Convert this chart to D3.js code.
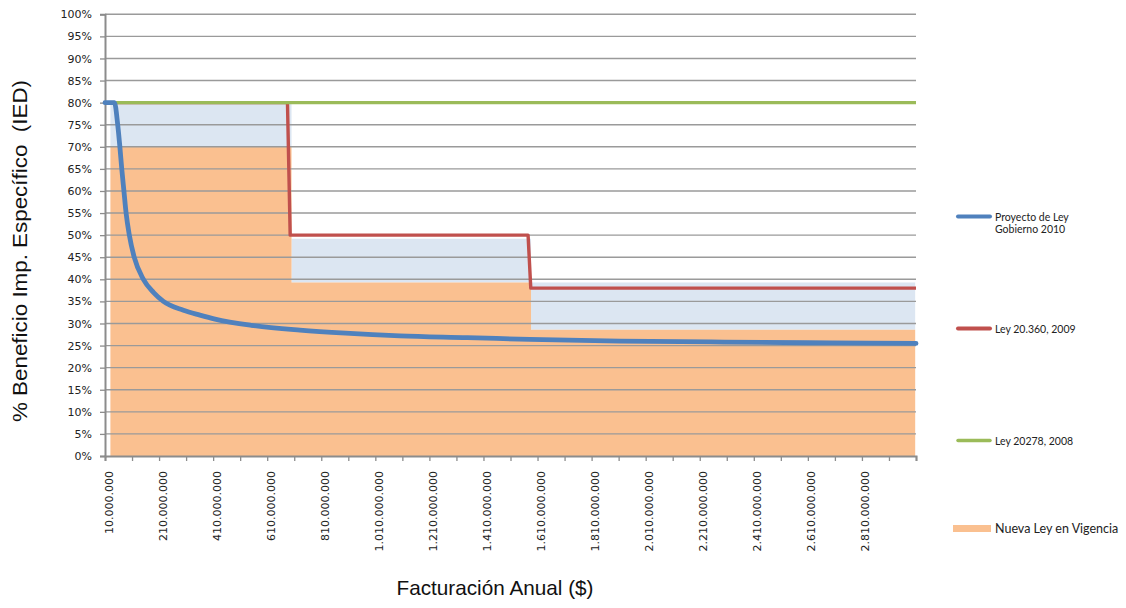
<!DOCTYPE html>
<html>
<head>
<meta charset="utf-8">
<script src="https://cdn.jsdelivr.net/npm/d3@7/dist/d3.min.js"></script>
<style>
  html, body { margin: 0; padding: 0; background: #ffffff; }
  svg { display: block; }
</style>
</head>
<body>
<svg id="chart" width="1126" height="608"></svg>
<script>
// ---------------- DATA (millions of $ / percent) ----------------
const yTickValues = [0, 5, 10, 15, 20, 25, 30, 35, 40, 45, 50, 55, 60, 65, 70, 75, 80, 85, 90, 95, 100];
const xTickValues = [10, 110, 210, 310, 410, 510, 610, 710, 810, 910, 1010, 1110, 1210, 1310, 1410, 1510,
                     1610, 1710, 1810, 1910, 2010, 2110, 2210, 2310, 2410, 2510, 2610, 2710, 2810, 2910, 3010];
const xTickLabels = [10, 210, 410, 610, 810, 1010, 1210, 1410, 1610, 1810, 2010, 2210, 2410, 2610, 2810];

// Proyecto de Ley Gobierno 2010 (blue curve)
const proyectoX   = [10, 45, 57, 65, 72, 80, 88, 100, 118, 152, 190, 226, 300, 361, 417, 550, 731, 900, 1101, 1350, 1582, 1915, 2300, 2700, 3010];
const proyectoPct = [80, 80, 75, 70, 65, 60, 55, 50, 45, 40, 37, 35, 33, 31.9, 31, 29.6, 28.5, 27.8, 27.2, 26.8, 26.4, 26.0, 25.8, 25.6, 25.5];

// Ley 20.360, 2009 (red steps)
const ley2009X   = [10, 685, 695, 1575, 1585, 3010];
const ley2009Pct = [80, 80, 50, 50, 38, 38];

// Ley 20278, 2008 (green)
const ley2008X   = [10, 3010];
const ley2008Pct = [80, 80];

// Nueva Ley en Vigencia (orange area) and light-blue band above it
const nuevaX      = [30, 700, 1586, 3007];
const nuevaPct    = [70, 39.3, 28.6, 28.6];
const bandTopPct  = [80, 49.2, 39.3, 39.3];

// ---------------- CHART ----------------
const svg = d3.select("#chart");
const plotLeft = 105, plotRight = 916, plotTop = 14.3, plotBottom = 456;

const x = d3.scaleLinear().domain([10, 3010]).range([plotLeft, plotRight]);
const y = d3.scaleLinear().domain([0, 100]).range([plotBottom, plotTop]);

const esLocale = d3.formatLocale({ decimal: ",", thousands: ".", grouping: [3], currency: ["$", ""] });
const fmtMoney = esLocale.format(",");

const colOrange = "#FAC090", colBand = "#DCE6F2";
const colBlue = "#4F81BD", colRed = "#C0504D", colGreen = "#9BBB59";
const gridCol = "#9a9a9a";

// areas
const areaBand = d3.area()
  .x((d, i) => x(nuevaX[i]))
  .y0((d, i) => y(nuevaPct[i]))
  .y1((d, i) => y(bandTopPct[i]))
  .curve(d3.curveStepAfter);
svg.append("path").attr("d", areaBand(nuevaX)).attr("fill", colBand);

const areaNueva = d3.area()
  .x((d, i) => x(nuevaX[i]))
  .y0(y(0))
  .y1((d, i) => y(nuevaPct[i]))
  .curve(d3.curveStepAfter);
svg.append("path").attr("d", areaNueva(nuevaX)).attr("fill", colOrange);

// gridlines
svg.append("g").selectAll("line").data(yTickValues.filter(v => v > 0)).join("line")
  .attr("x1", plotLeft).attr("x2", plotRight)
  .attr("y1", d => y(d)).attr("y2", d => y(d))
  .attr("stroke", gridCol).attr("stroke-width", 1.4);

// y axis
const yAxis = d3.axisLeft(y).tickValues(yTickValues).tickSize(5).tickFormat(d => d + "%");
const gy = svg.append("g").attr("transform", `translate(${plotLeft},0)`).call(yAxis);
gy.select(".domain").attr("stroke", "#8c8c8c").attr("stroke-width", 2);
gy.selectAll(".tick line").attr("stroke", "#8c8c8c").attr("stroke-width", 1.3);
gy.selectAll(".tick text").attr("font-family", "DejaVu Sans, Verdana, sans-serif")
  .attr("font-size", 11).attr("fill", "#222").attr("x", -13);

// x axis
const xAxis = d3.axisBottom(x).tickValues(xTickValues).tickSize(5).tickFormat("");
const gx = svg.append("g").attr("transform", `translate(0,${plotBottom})`).call(xAxis);
gx.select(".domain").attr("stroke", "#8c8c8c").attr("stroke-width", 2);
gx.selectAll(".tick line").attr("stroke", "#8c8c8c").attr("stroke-width", 1.3);

svg.append("g").selectAll("text").data(xTickLabels).join("text")
  .attr("transform", d => `translate(${x(d) + 4},${plotBottom + 15}) rotate(-90)`)
  .attr("text-anchor", "end")
  .attr("dominant-baseline", "central")
  .attr("font-family", "DejaVu Sans, Verdana, sans-serif")
  .attr("font-size", 11).attr("fill", "#222")
  .text(d => fmtMoney(d * 1e6));

// lines
const lineGen = (xs, ys) => d3.line().x((d, i) => x(xs[i])).y((d, i) => y(ys[i]));

svg.append("path").attr("d", lineGen(ley2009X, ley2009Pct)(ley2009X))
  .attr("fill", "none").attr("stroke", colRed).attr("stroke-width", 3.4)
  .attr("stroke-linejoin", "round");

svg.append("path").attr("d", lineGen(ley2008X, ley2008Pct)(ley2008X))
  .attr("fill", "none").attr("stroke", colGreen).attr("stroke-width", 3.2);

svg.append("path").attr("d", lineGen(proyectoX, proyectoPct).curve(d3.curveMonotoneX)(proyectoX))
  .attr("fill", "none").attr("stroke", colBlue).attr("stroke-width", 4.8)
  .attr("stroke-linecap", "round").attr("stroke-linejoin", "round");

// axis titles
svg.append("text")
  .attr("transform", `translate(27,251) rotate(-90)`)
  .attr("text-anchor", "middle")
  .attr("font-family", "Liberation Sans Narrow, Liberation Sans, Arial, sans-serif")
  .attr("font-size", 20).attr("fill", "#111")
  .style("white-space", "pre")
  .attr("textLength", 342).attr("lengthAdjust", "spacingAndGlyphs")
  .text("% Beneficio Imp. Específico  (IED)");

svg.append("text")
  .attr("x", 495).attr("y", 595)
  .attr("text-anchor", "middle")
  .attr("font-family", "Liberation Sans Narrow, Liberation Sans, Arial, sans-serif")
  .attr("font-size", 21).attr("fill", "#111")
  .attr("textLength", 197).attr("lengthAdjust", "spacingAndGlyphs")
  .text("Facturación Anual ($)");

// legend
const legendFont = "Lato, Carlito, Calibri, sans-serif";
const legend = svg.append("g");
const legendLines = [
  { color: colBlue, y: 216.5, w: 4, lines: ["Proyecto de Ley", "Gobierno 2010"] },
  { color: colRed, y: 328.5, w: 4, lines: ["Ley 20.360, 2009"] },
  { color: colGreen, y: 440.5, w: 3.5, lines: ["Ley 20278, 2008"] }
];
legendLines.forEach(l => {
  legend.append("line").attr("x1", 958).attr("x2", 990).attr("y1", l.y).attr("y2", l.y)
    .attr("stroke", l.color).attr("stroke-width", l.w).attr("stroke-linecap", "round");
  l.lines.forEach((t, i) => {
    legend.append("text").attr("x", 995).attr("y", l.y + 4 + i * 12.5)
      .attr("font-family", legendFont).attr("font-size", 10.5).attr("fill", "#222").text(t);
  });
});
legend.append("rect").attr("x", 953).attr("y", 525).attr("width", 38).attr("height", 7).attr("fill", colOrange);
legend.append("text").attr("x", 995).attr("y", 532.5)
  .attr("font-family", legendFont).attr("font-size", 12.5).attr("fill", "#222").text("Nueva Ley en Vigencia");
</script>
</body>
</html>
